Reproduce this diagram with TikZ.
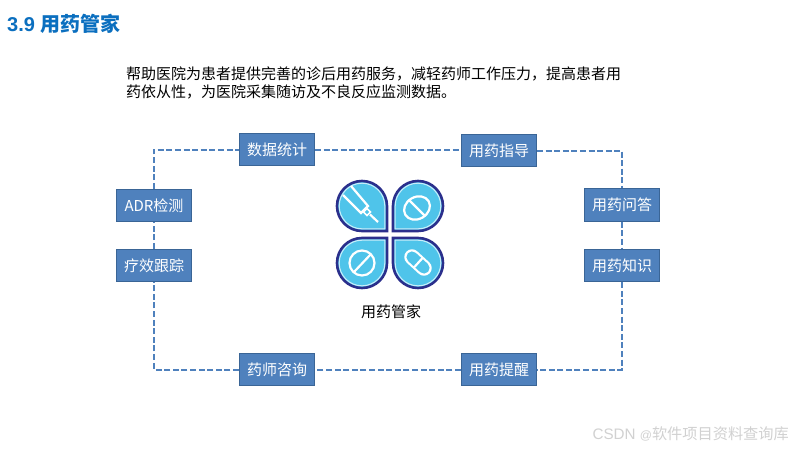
\documentclass[tikz,border=0pt]{standalone}
\usepackage{fontspec}
\setmainfont{Liberation Sans}
\newfontfamily\cjk{Noto Sans CJK SC}
\definecolor{boxfill}{HTML}{4F81BD}
\definecolor{boxedge}{HTML}{3A6596}
\definecolor{petalblue}{HTML}{4FC4EA}
\definecolor{petalnavy}{HTML}{2B2F8C}
\definecolor{titleblue}{HTML}{0B6FBF}
\tikzset{
  tagbox/.style={draw=boxedge,line width=0.8pt,fill=boxfill,text=white,minimum width=75.2pt,minimum height=32.6pt,inner sep=0pt,font=\fontsize{15}{18}\selectfont\cjk},
  link/.style={draw=boxfill,line width=2pt,dash pattern=on 6pt off 2.6pt},
  petalbody/.style={fill=petalblue,draw=petalnavy,line width=2.6pt},
  petalinner/.style={draw=white!70!petalblue,line width=1pt},
  glyph/.style={draw=white,line width=2.2pt},
  plain/.style={inner sep=0pt,text=black}
}
\newcommand{\petalpath}[1]{(0,0) [rounded corners=#1pt] -- (-2*#1,0) -- (-2*#1,-2*#1) -- (0,-2*#1) [sharp corners] -- cycle}
\newcommand{\petalat}[4]{%
  \begin{scope}[shift={(#1,#2)},xscale=#3,yscale=#4]
    \draw[petalbody] \petalpath{25};
    \draw[petalinner] (-2.2,-2.2) [rounded corners=22.8pt] -- (-47.8,-2.2) -- (-47.8,-47.8) -- (-2.2,-47.8) [sharp corners] -- cycle;
  \end{scope}}
\begin{document}
\begin{tikzpicture}[x=1pt,y=-1pt]
\useasboundingbox (0,0) rectangle (800,450);
\fill[white] (0,0) rectangle (800,450);

\node[anchor=west,inner sep=0pt,text=titleblue,font=\fontsize{20}{23}\selectfont\bfseries] (title) at (7,24) {3.9 {\cjk 用药管家}};

\node[plain,anchor=west,align=left,font=\fontsize{15}{18.5}\selectfont\cjk] (intro) at (126,83) {帮助医院为患者提供完善的诊后用药服务，减轻药师工作压力，提高患者用\\药依从性，为医院采集随访及不良反应监测数据。};

\node[tagbox] (stat) at (277,149.5) {数据统计};
\node[tagbox] (guide) at (499,150.5) {用药指导};
\node[tagbox] (adr) at (154,205.5) {ADR检测};
\node[tagbox] (track) at (154,265.5) {疗效跟踪};
\node[tagbox] (ask) at (622,205) {用药问答};
\node[tagbox] (know) at (622,265.5) {用药知识};
\node[tagbox] (consult) at (277,369.5) {药师咨询};
\node[tagbox] (remind) at (499,369.5) {用药提醒};

\begin{scope}[on background layer/.style={}]
\draw[link] (adr.north) |- (stat.west);
\draw[link] (stat.east) -- (guide.west |- stat.east);
\draw[link] (guide.east) -| (ask.north);
\draw[link] (ask.south) -- (know.north);
\draw[link] (know.south) |- (remind.east);
\draw[link] (remind.west) -- (consult.east);
\draw[link] (consult.west) -| (track.south);
\draw[link] (track.north) -- (adr.south);
\end{scope}

% icon
\petalat{387}{231}{1}{1}
\petalat{393}{231}{-1}{1}
\petalat{387}{238}{1}{-1}
\petalat{393}{238}{-1}{-1}

% syringe
\draw[glyph] (343,195) -- (361,213) -- (368,206) -- (351,186);
\draw[glyph,line width=1.6pt] (367,208.5) -- (370.5,212) -- (367,215.5) -- (363.5,212) -- cycle;
\draw[glyph] (370,214.5) -- (378,222);
% tablet
\draw[glyph,rotate around={30:(417,208)}] (417,208) ellipse [x radius=13.5,y radius=11];
\draw[glyph] (409,200) -- (425,216);
% round pill
\draw[glyph] (362,263) circle [radius=12.5];
\draw[glyph] (354,272) -- (371,254);
% capsule
\draw[white,line width=15.5pt,line cap=round] (412,257) -- (424,268);
\draw[petalblue,line width=11.2pt,line cap=round] (412,257) -- (424,268);
\draw[glyph] (413.5,268) -- (423,257.5);

\node[plain,font=\fontsize{15}{18}\selectfont\cjk] (iconlabel) at (391,312) {用药管家};

\node[inner sep=0pt,anchor=east,text=black!18,font=\fontsize{15.2}{18}\selectfont] (mark) at (789,434) {CSDN {\fontsize{12}{12}\selectfont @}{\cjk 软件项目资料查询库}};
\end{tikzpicture}
\end{document}
